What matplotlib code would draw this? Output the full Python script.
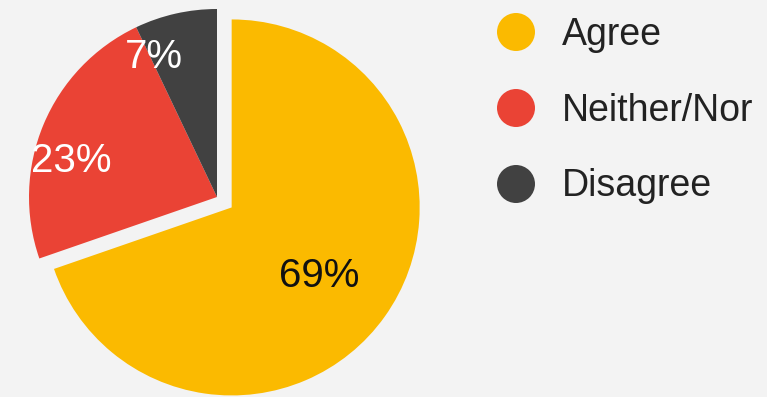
import matplotlib
matplotlib.use("Agg")
import matplotlib.pyplot as plt
from matplotlib.patches import Circle

plt.rcParams['font.family'] = ['Liberation Sans', 'DejaVu Sans']

# Survey response shares (percent)
categories = ["Agree", "Neither/Nor", "Disagree"]
shares = [69, 23, 7]
colors = ["#FBBA00", "#EA4335", "#414141"]
label_colors = ["#111111", "white", "white"]

W, H = 767, 397
BG = "#F3F3F3"

fig = plt.figure(figsize=(W / 100, H / 100), dpi=100, facecolor=BG)
ax = fig.add_axes([0, 0, 1, 1])
ax.set_facecolor(BG)

radius = 188
center = (217, H - 197)
# offset of the pulled-out slice, in pixels
explode = [18, 0, 0]

wedges, _ = ax.pie(shares, colors=colors, startangle=90, counterclock=False,
                   radius=radius, center=center, explode=explode,
                   normalize=True, frame=True,
                   wedgeprops=dict(linewidth=0))
ax.set_xlim(0, W)
ax.set_ylim(0, H)
ax.axis("off")

# Percentage labels (baseline positions in pixel space)
label_pos = [(319, 287), (71.5, 172), (153.5, 68)]
for val, (x, yb), c in zip(shares, label_pos, label_colors):
    ax.text(x, H - yb, f"{val}%", color=c, fontsize=29,
            ha="center", va="baseline")

# Legend
legend_y = [32, 108, 184]
baselines = [45, 120.7, 196]
for name, col, yc, yb in zip(categories, colors, legend_y, baselines):
    ax.add_patch(Circle((516, H - yc), 19, facecolor=col, edgecolor="none"))
    ax.text(562, H - yb, name, color="#222222", fontsize=27,
            ha="left", va="baseline")

fig.savefig("out.png", dpi=100, facecolor=BG)
